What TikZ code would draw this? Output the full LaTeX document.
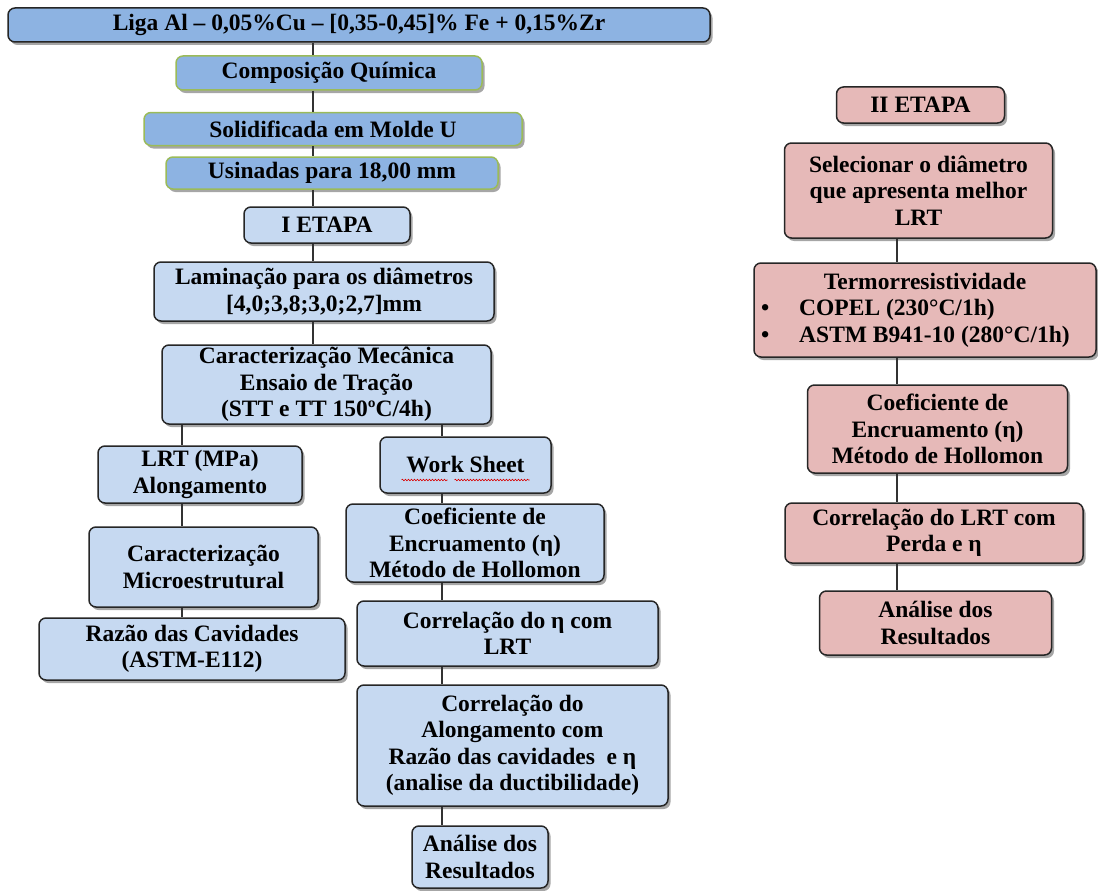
\documentclass[tikz,border=0pt]{standalone}
\usepackage{fontspec}
\setmainfont{Liberation Serif}
\usetikzlibrary{shadows,calc,decorations.pathmorphing}
\definecolor{lblue}{HTML}{C6D9F1}
\definecolor{dblue}{HTML}{8DB3E2}
\definecolor{rosebox}{HTML}{E6B9B8}
\definecolor{olivebd}{HTML}{9BBB59}
\begin{document}
\begin{tikzpicture}[x=1pt,y=-1pt,
  every node/.style={font=\fontsize{23.5}{26.5}\selectfont\bfseries},
  box/.style={draw=black!85,line width=1.5pt,rounded corners=7pt,align=center,inner sep=2pt,
    drop shadow={shadow xshift=2.5pt,shadow yshift=-3pt,fill=black,opacity=0.35}},
  lb/.style={box,fill=lblue},
  db/.style={box,fill=dblue},
  dbg/.style={box,fill=dblue,draw=olivebd},
  pk/.style={box,fill=rosebox},
  link/.style={draw=black!80,line width=1.2pt},
  wavy/.style={draw=red!85!black,line width=0.6pt,decorate,decoration={snake,amplitude=0.8pt,segment length=3pt}}]
\fill[white] (0,0) rectangle (1098,891);
\useasboundingbox (0,0) rectangle (1098,891);
\coordinate (trunk) at (313,0);
\coordinate (cl) at (182,0);
\coordinate (cm) at (442,0);
\coordinate (cr) at (897,0);
% left column
\node[db,minimum width=702pt,minimum height=34pt] (top) at (359,25) {Liga Al – 0,05\%Cu – [0,35-0,45]\% Fe + 0,15\%Zr};
\node[dbg,minimum width=306pt,minimum height=34pt] (comp) at (329,73) {Composição Química};
\node[dbg,minimum width=378pt,minimum height=33pt] (sol) at (333,129) {Solidificada em Molde U};
\node[dbg,minimum width=332pt,minimum height=32pt] (usi) at (332,173) {Usinadas para 18,00 mm};
\node[lb,minimum width=166pt,minimum height=36pt] (ietapa) at (327,225) {I ETAPA};
\node[lb,minimum width=340pt,minimum height=59pt] (lam) at (324,291.5) {Laminação para os diâmetros\\{}[4,0;3,8;3,0;2,7]mm};
\node[lb,minimum width=329pt,minimum height=79pt] (mec) at (326.5,384.5) {Caracterização Mecânica\\Ensaio de Tração\\(STT e TT 150ºC/4h)};
\node[lb,minimum width=204pt,minimum height=57pt] (lrt) at (200,474.5) {LRT (MPa)\\Alongamento};
\node[lb,minimum width=171pt,minimum height=56pt] (ws) at (465.5,465) {Work Sheet};
\node[lb,minimum width=229pt,minimum height=80pt] (micro) at (203.5,567) {Caracterização\\Microestrutural};
\node[lb,minimum width=258pt,minimum height=78pt] (coefL) at (475,543) {Coeficiente de\\Encruamento (η)\\Método de Hollomon};
\node[lb,minimum width=306pt,minimum height=62pt] (razao) at (192,649) {Razão das Cavidades\\(ASTM-E112)};
\node[lb,minimum width=301pt,minimum height=65pt] (corr1) at (507.5,633.5) {Correlação do η com\\LRT};
\node[lb,minimum width=311pt,minimum height=121pt] (corr2) at (512.5,745.5) {Correlação do\\Alongamento com\\Razão das cavidades\ \ e η\\(analise da ductibilidade)};
\node[lb,minimum width=136pt,minimum height=62pt] (anL) at (480,857) {Análise dos\\Resultados};
% right column
\node[pk,minimum width=168pt,minimum height=36pt] (ii) at (920.5,105) {II ETAPA};
\node[pk,minimum width=268pt,minimum height=95pt] (sel) at (918.5,190.5) {Selecionar o diâmetro\\que apresenta melhor\\LRT};
\node[pk,minimum width=342pt,minimum height=94pt,align=left,inner xsep=6pt] (term) at (925,310) {\makebox[328pt][c]{Termorresistividade}\\•\hspace{30pt}COPEL (230°C/1h)\\•\hspace{30pt}ASTM B941-10 (280°C/1h)};
\node[pk,minimum width=260pt,minimum height=88pt] (coefR) at (937.5,429) {Coeficiente de\\Encruamento (η)\\Método de Hollomon};
\node[pk,minimum width=298pt,minimum height=60pt] (corrR) at (934,533) {Correlação do LRT com\\Perda e η};
\node[pk,minimum width=232pt,minimum height=64pt] (anR) at (935.5,623) {Análise dos\\Resultados};
% connectors
\path[link] (top.south -| trunk) -- (comp.north -| trunk)
  (comp.south -| trunk) -- (sol.north -| trunk)
  (sol.south -| trunk) -- (usi.north -| trunk)
  (usi.south -| trunk) -- (ietapa.north -| trunk)
  (ietapa.south -| trunk) -- (lam.north -| trunk)
  (lam.south -| trunk) -- (mec.north -| trunk)
  (mec.south -| cl) -- (lrt.north -| cl)
  (lrt.south -| cl) -- (micro.north -| cl)
  (micro.south -| cl) -- (razao.north -| cl)
  (mec.south -| cm) -- (ws.north -| cm)
  (ws.south -| cm) -- (coefL.north -| cm)
  (coefL.south -| cm) -- (corr1.north -| cm)
  (corr1.south -| cm) -- (corr2.north -| cm)
  (corr2.south -| cm) -- (anL.north -| cm)
  (sel.south -| cr) -- (term.north -| cr)
  (term.south -| cr) -- (coefR.north -| cr)
  (coefR.south -| cr) -- (corrR.north -| cr)
  (corrR.south -| cr) -- (anR.north -| cr);
% spell-check underline
\draw[wavy] ($(ws.center)+(-64,15)$) -- ($(ws.center)+(-18,15)$);
\draw[wavy] ($(ws.center)+(-11,15)$) -- ($(ws.center)+(64,15)$);
\end{tikzpicture}
\end{document}
